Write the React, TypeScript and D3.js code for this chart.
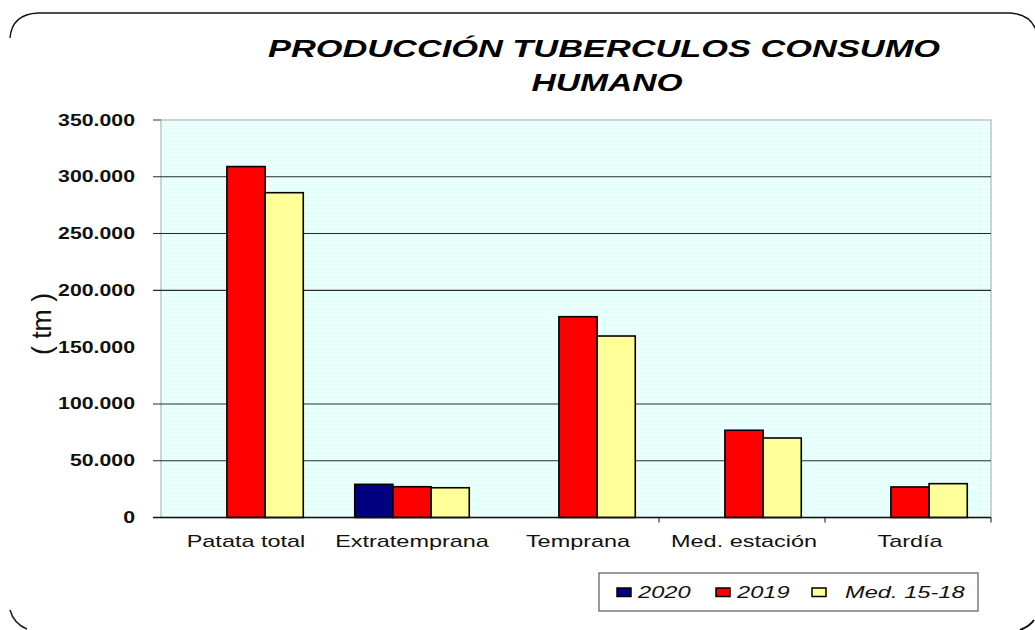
import React from "react";
import * as d3 from "d3";

const categories = ["Patata total", "Extratemprana", "Temprana", "Med. estación", "Tardía"];
const serie2020: (number | null)[] = [null, 29200, null, null, null];
const serie2019: (number | null)[] = [309000, 27100, 176800, 76800, 26900];
const serieMed: (number | null)[] = [286000, 26200, 159800, 70000, 29800];
const seriesNames = ["2020", "2019", "Med. 15-18"];
const seriesColors = ["#000080", "#ff0000", "#ffff99"];
const yTicks = [0, 50000, 100000, 150000, 200000, 250000, 300000, 350000];
const gridValues = [50000, 100000, 200000, 250000, 300000];
const titleLines = ["PRODUCCIÓN TUBERCULOS CONSUMO", "HUMANO"];
const yLabel = "( tm )";

const W = 1035;
const H = 630;
const plot = { left: 161, right: 991, top: 120, bottom: 517.5 };

const fmt = d3
  .formatLocale({ decimal: ",", thousands: ".", grouping: [3], currency: ["", ""] })
  .format(",d");

export default function App() {
  const x = d3.scaleBand<string>().domain(categories).range([plot.left, plot.right]).padding(0);
  const y = d3.scaleLinear().domain([0, 350000]).range([plot.bottom, plot.top]);
  const bw = x.bandwidth() * 0.23;
  const groupOff = (x.bandwidth() - 3 * bw) / 2 + 2;
  const series = [serie2020, serie2019, serieMed];
  const font = "'Liberation Sans', Arial, sans-serif";
  const bandEdges = categories.map((c) => (x(c) as number) + x.bandwidth()).slice(1);

  const legendItems = [
    { sq: 617, tx: 638 },
    { sq: 716, tx: 737 },
    { sq: 812, tx: 845 },
  ];

  return (
    <svg
      width={W}
      height={H}
      style={{ position: "absolute", left: 0, top: 0, background: "#fff" }}
      fontFamily={font}
    >
      <defs>
        <pattern id="dots" width="2" height="2" patternUnits="userSpaceOnUse">
          <rect width="2" height="2" fill="#fbffff" />
          <rect width="1" height="1" fill="#e0f8f8" />
          <rect x="1" y="1" width="1" height="1" fill="#eefcfc" />
        </pattern>
      </defs>

      {/* frame (partially visible rounded rectangle) */}
      <path
        d="M10,38 Q12,14 38,13 L1010,13 Q1030,14 1036,30"
        fill="none"
        stroke="#111"
        strokeWidth={1.4}
      />
      <path d="M10,610 Q14,624 27,629" fill="none" stroke="#222" strokeWidth={1.6} />
      <path d="M1020,630 Q1030,626 1034,620" fill="none" stroke="#111" strokeWidth={2} />

      {/* title */}
      <text
        x={604}
        y={57}
        textAnchor="middle"
        fontSize={24}
        fontWeight="bold"
        fontStyle="italic"
        textLength={672}
        lengthAdjust="spacingAndGlyphs"
      >
        {titleLines[0]}
      </text>
      <text
        x={607}
        y={91}
        textAnchor="middle"
        fontSize={24}
        fontWeight="bold"
        fontStyle="italic"
        textLength={151}
        lengthAdjust="spacingAndGlyphs"
      >
        {titleLines[1]}
      </text>

      {/* plot background */}
      <rect
        x={plot.left}
        y={plot.top}
        width={plot.right - plot.left}
        height={plot.bottom - plot.top}
        fill="url(#dots)"
        stroke="#c4c4c4"
        strokeWidth={1.5}
      />

      {/* gridlines */}
      {gridValues.map((v) => (
        <line key={v} x1={153} x2={plot.right} y1={y(v)} y2={y(v)} stroke="#2a2a2a" strokeWidth={1.1} />
      ))}
      <line x1={153} x2={plot.left} y1={y(350000)} y2={y(350000)} stroke="#333" strokeWidth={1} />

      {/* bars */}
      {categories.map((c, i) => (
        <g key={c}>
          {series.map((s, j) => {
            const v = s[i];
            if (v == null) return null;
            const bx = (x(c) as number) + groupOff + j * bw;
            return (
              <rect
                key={j}
                x={bx}
                y={y(v)}
                width={bw}
                height={y(0) - y(v)}
                fill={seriesColors[j]}
                stroke="#000"
                strokeWidth={1.6}
              />
            );
          })}
        </g>
      ))}

      {/* x axis */}
      <line x1={153} x2={plot.right} y1={y(0)} y2={y(0)} stroke="#111" strokeWidth={1.3} />
      {bandEdges.slice(1).map((ex, i) => (
        <line key={i} x1={ex} x2={ex} y1={y(0)} y2={y(0) + 5} stroke="#111" strokeWidth={1} />
      ))}

      {/* y tick labels */}
      {yTicks.map((t) => (
        <g key={t} transform={`translate(135,${y(t) + 5.5}) scale(1.33,1)`}>
          <text textAnchor="end" fontSize={16} fontWeight="bold" fill="#111">
            {fmt(t)}
          </text>
        </g>
      ))}

      {/* x labels */}
      {categories.map((c) => (
        <g key={c} transform={`translate(${(x(c) as number) + x.bandwidth() / 2 + 2},547) scale(1.38,1)`}>
          <text textAnchor="middle" fontSize={17} fill="#111">
            {c}
          </text>
        </g>
      ))}

      {/* y label */}
      <text
        transform="translate(51,324) rotate(-90)"
        textAnchor="middle"
        fontSize={28}
        fill="#111"
        textLength={62}
        lengthAdjust="spacingAndGlyphs"
      >
        {yLabel}
      </text>

      {/* legend */}
      <rect x={599} y={573} width={379} height={38} fill="#fff" stroke="#666" strokeWidth={1.3} />
      {seriesNames.map((n, j) => (
        <g key={n}>
          <rect
            x={legendItems[j].sq}
            y={588}
            width={14}
            height={8.5}
            fill={seriesColors[j]}
            stroke="#000"
            strokeWidth={1.5}
          />
          <g transform={`translate(${legendItems[j].tx},598) scale(1.48,1)`}>
            <text fontSize={16} fontStyle="italic" fill="#111">
              {n}
            </text>
          </g>
        </g>
      ))}
    </svg>
  );
}
